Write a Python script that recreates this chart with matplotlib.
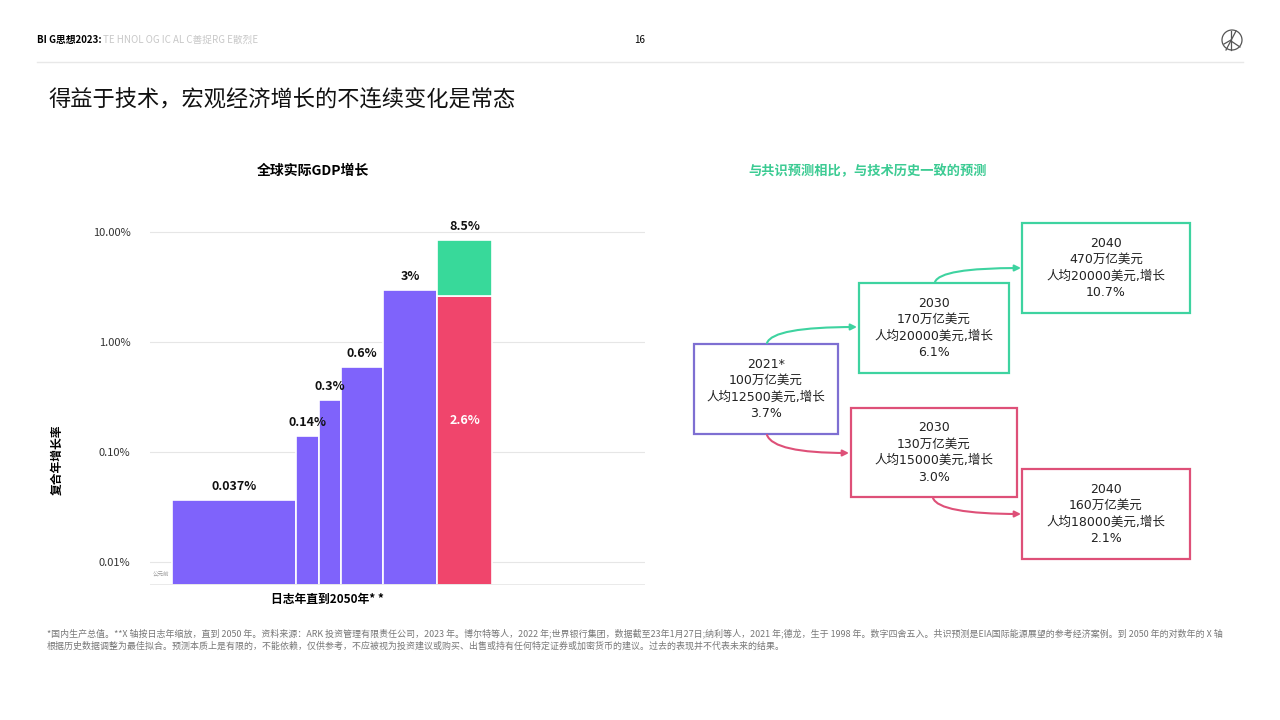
import matplotlib
matplotlib.use("Agg")
import matplotlib.pyplot as plt
from matplotlib.patches import Rectangle, Circle
from matplotlib.transforms import blended_transform_factory
import numpy as np

plt.rcParams['font.family'] = ['Noto Sans CJK SC', 'DejaVu Sans']

# Data
era_spans = [124, 23, 22, 42, 54, 55]          # width of each era on the log-year axis (chart units)
hist_growth = [0.037, 0.14, 0.3, 0.6, 3]        # % compound annual growth
hist_labels = ['0.037%', '0.14%', '0.3%', '0.6%', '3%']
consensus_growth = 2.6
tech_growth = 8.5
ytick_vals = [0.01, 0.1, 1, 10]
ytick_labels = ['0.01%', '0.10%', '1.00%', '10.00%']

# Flow diagram boxes
box_2021 = "2021*\n100万亿美元\n人均12500美元,增长\n3.7%"
box_tech_2030 = "2030\n170万亿美元\n人均20000美元,增长\n6.1%"
box_tech_2040 = "2040\n470万亿美元\n人均20000美元,增长\n10.7%"
box_cons_2030 = "2030\n130万亿美元\n人均15000美元,增长\n3.0%"
box_cons_2040 = "2040\n160万亿美元\n人均18000美元,增长\n2.1%"

PURPLE = '#7F63FB'
GREEN = '#38D99A'
RED = '#F0456C'
BOX_PURPLE = '#7E6FD2'
BOX_GREEN = '#3ED3A0'
BOX_RED = '#DE5078'

W, H = 1280, 720
fig = plt.figure(figsize=(12.8, 7.2), dpi=100)

# overlay in pixel coordinates for page furniture
ov = fig.add_axes([0, 0, 1, 1])
ov.set_xlim(0, W)
ov.set_ylim(H, 0)
ov.axis('off')

# --- chart ---
ax_l, ax_r, ax_t, ax_b = 150, 645, 228, 585
ax = fig.add_axes([ax_l / W, 1 - ax_b / H, (ax_r - ax_l) / W, (ax_b - ax_t) / H])
ax.set_yscale('log')
ax.set_ylim(0.0062, 10.9)
ax.set_xlim(0, ax_r - ax_l)
for s in ax.spines.values():
    s.set_visible(False)
ax.set_xticks([])
ax.set_yticks(ytick_vals)
ax.set_yticklabels(ytick_labels, fontsize=8, color='#333333')
ax.yaxis.set_minor_locator(matplotlib.ticker.NullLocator())
ax.tick_params(axis='y', length=0, pad=14)
ax.grid(axis='y', color='#E6E6E6', lw=0.8)
ax.set_axisbelow(True)
ax.axhline(0.0062, color='#E6E6E6', lw=1.2)

edges = 22 + np.concatenate([[0], np.cumsum(era_spans)])
base = 0.0062
for i, (g, lab) in enumerate(zip(hist_growth, hist_labels)):
    ax.bar(edges[i], g - base, width=era_spans[i], bottom=base, align='edge',
           color=PURPLE, edgecolor='white', lw=1.2)
    ax.annotate(lab, (edges[i] + era_spans[i] / 2, g), xytext=(0, 5),
                textcoords='offset points', ha='center', va='bottom',
                fontsize=9, fontweight='bold', color='#111111')
ax.bar(edges[5], consensus_growth - base, width=era_spans[5], bottom=base,
       align='edge', color=RED, edgecolor='white', lw=1.2)
ax.bar(edges[5], tech_growth - consensus_growth, width=era_spans[5],
       bottom=consensus_growth, align='edge', color=GREEN, edgecolor='white', lw=1.2)
ax.annotate('8.5%', (edges[5] + era_spans[5] / 2, tech_growth), xytext=(0, 5),
            textcoords='offset points', ha='center', va='bottom',
            fontsize=9, fontweight='bold', color='#111111')
tr = blended_transform_factory(ax.transData, ax.transAxes)
ax.text(edges[5] + era_spans[5] / 2, 0.462, '2.6%', transform=tr, ha='center',
        va='center', fontsize=9, fontweight='bold', color='white')
ax.text(0.006, 0.025, '公元前', transform=ax.transAxes, fontsize=4, color='#999999')

# chart texts
ov.text(313, 171, '全球实际GDP增长', ha='center', va='center', fontsize=10, fontweight='bold')
ov.text(220, 327, '历史数据', ha='center', va='center', fontsize=8.8, color='#8367E6')
ov.text(527, 394, '普遍预测', ha='center', va='center', fontsize=8.8, color='#E8446C')
ov.text(561, 251, '预测符合技术的历史', ha='center', va='center', fontsize=8.8,
        color='#34C98D', fontweight='bold')
ov.text(327, 600, '日志年直到2050年* *', ha='center', va='center', fontsize=8.5, fontweight='bold')
ov.text(57, 460, '复合年增长率', ha='center', va='center', fontsize=8.5,
        fontweight='bold', rotation=90)

# --- header ---
ov.text(37, 40, 'BI G思想2023:', ha='left', va='center', fontsize=7, fontweight='bold')
ov.text(103, 40, 'TE HNOL OG IC AL C善捉RG E散烈E', ha='left', va='center',
        fontsize=7, color='#C8C8C8')
ov.text(640, 40, '16', ha='center', va='center', fontsize=7)
ov.plot([37, 1243], [62, 62], color='#E8E8E8', lw=1)
ov.add_patch(Circle((1232, 40), 10, fill=False, ec='#555555', lw=0.9))
ov.plot([1226, 1236], [50, 31], color='#555555', lw=0.9)
ov.plot([1231, 1231], [31, 50], color='#555555', lw=0.9)
ov.plot([1231, 1240], [41, 47], color='#555555', lw=0.9)
ov.plot([1224, 1231], [44, 40], color='#555555', lw=0.9)

ov.text(48, 100, '得益于技术，宏观经济增长的不连续变化是常态', ha='left', va='center',
        fontsize=16, color='#111111')

# --- flow diagram ---
ov.text(868, 171, '与共识预测相比，与技术历史一致的预测', ha='center', va='center',
        fontsize=9.5, fontweight='bold', color='#3CCB93')

boxes = [
    (box_2021, (694, 344, 838, 434), BOX_PURPLE),
    (box_tech_2030, (859, 283, 1009, 373), BOX_GREEN),
    (box_tech_2040, (1022, 223, 1190, 313), BOX_GREEN),
    (box_cons_2030, (851, 408, 1017, 497), BOX_RED),
    (box_cons_2040, (1022, 469, 1190, 559), BOX_RED),
]
for txt, (x0, y0, x1, y1), col in boxes:
    ov.add_patch(Rectangle((x0, y0), x1 - x0, y1 - y0, fill=False, ec=col, lw=1.6))
    ov.text((x0 + x1) / 2, (y0 + y1) / 2, txt, ha='center', va='center',
            fontsize=9, linespacing=1.35, color='#222222',
            family=['DejaVu Sans', 'Noto Sans CJK SC'])

arrows = [
    ((767, 343), (857, 327), BOX_GREEN, 'angle3,angleA=70,angleB=0'),
    ((935, 282), (1021, 268), BOX_GREEN, 'angle3,angleA=70,angleB=0'),
    ((767, 435), (849, 453), BOX_RED, 'angle3,angleA=-70,angleB=0'),
    ((933, 498), (1021, 514), BOX_RED, 'angle3,angleA=-70,angleB=0'),
]
for start, end, col, cs in arrows:
    ov.annotate('', xy=end, xytext=start,
                arrowprops=dict(arrowstyle='-|>', color=col, lw=1.5,
                                connectionstyle=cs, mutation_scale=9,
                                shrinkA=0, shrinkB=0))

# --- footnote ---
foot1 = ("*国内生产总值。**X 轴按日志年缩放，直到 2050 年。资料来源：ARK 投资管理有限责任公司，2023 年。博尔特等人，"
         "2022 年;世界银行集团，数据截至23年1月27日;纳利等人，2021 年;德龙，生于 1998 年。数字四舍五入。"
         "共识预测是EIA国际能源展望的参考经济案例。到 2050 年的对数年的 X 轴")
foot2 = ("根据历史数据调整为最佳拟合。预测本质上是有限的，不能依赖，仅供参考，不应被视为投资建议或购买、出售或持有"
         "任何特定证券或加密货币的建议。过去的表现并不代表未来的结果。")
ov.text(47, 633, foot1, ha='left', va='center', fontsize=6.45, color='#777777')
ov.text(47, 646, foot2, ha='left', va='center', fontsize=6.45, color='#777777')

fig.savefig('out.png', dpi=100)
